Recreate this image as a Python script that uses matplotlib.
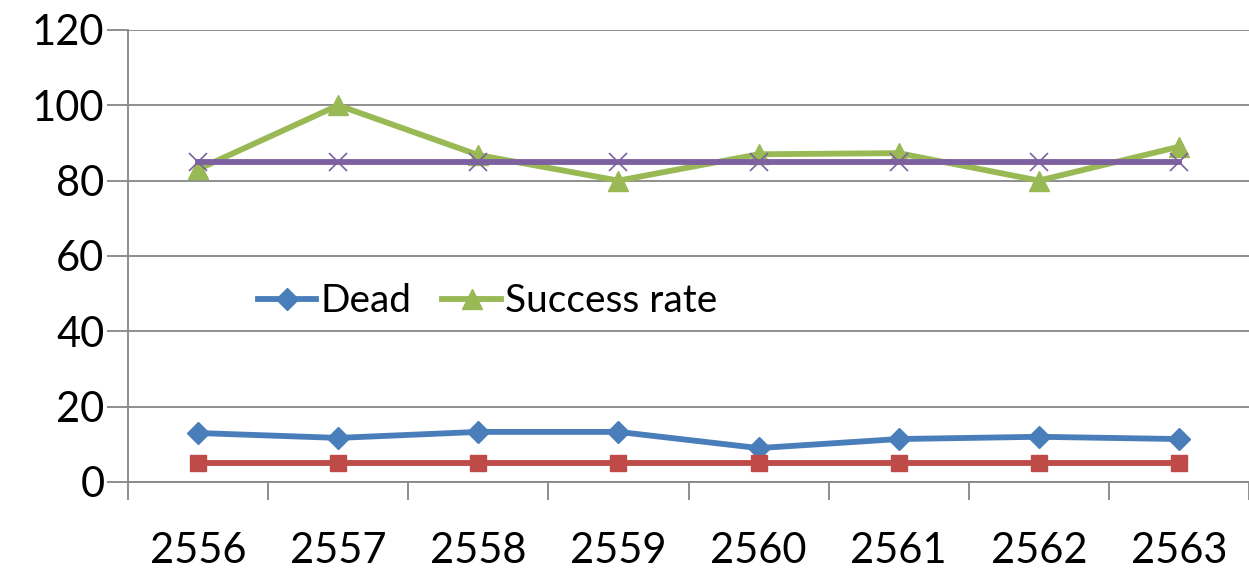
import matplotlib.pyplot as plt
import numpy as np

# Data
years = ["2556", "2557", "2558", "2559", "2560", "2561", "2562", "2563"]
dead = [13.0, 11.7, 13.3, 13.3, 9.0, 11.4, 12.0, 11.4]
dead_target = [5, 5, 5, 5, 5, 5, 5, 5]
success_rate = [83.0, 100.0, 86.8, 80.0, 87.0, 87.3, 80.0, 89.0]
success_target = [85, 85, 85, 85, 85, 85, 85, 85]

plt.rcParams['font.family'] = ['Lato', 'DejaVu Sans']

fig = plt.figure(figsize=(12.49, 5.74), dpi=100)
ax = fig.add_axes([0.1025, 0.1603, 0.8975, 0.7875])

x = np.arange(len(years))
lw = 4.2
ax.plot(x, dead, color="#4a7ebb", lw=lw, marker="D", ms=11, label="Dead", zorder=3)
ax.plot(x, dead_target, color="#be4b48", lw=lw, marker="s", ms=12, zorder=3)
ax.plot(x, success_rate, color="#98b954", lw=lw, marker="^", ms=15, label="Success rate", zorder=3)
ax.plot(x, success_target, color="#7d60a0", lw=lw, marker="x", ms=13, mew=1.2, zorder=4)

ax.set_ylim(0, 120)
ax.set_yticks(range(0, 121, 20))
ax.set_xlim(-0.5, 7.5)
ax.set_xticks(x)
ax.set_xticklabels(years)
ax.set_xticks(np.arange(-0.5, 7.6, 1), minor=True)

ax.grid(axis="y", color="#868686", lw=1.3)
for s in ["top", "right"]:
    ax.spines[s].set_visible(False)
for s in ["left", "bottom"]:
    ax.spines[s].set_color("#868686")
    ax.spines[s].set_linewidth(1.3)

ax.tick_params(axis="y", labelsize=30, length=15, width=1.3, color="#868686", pad=2)
ax.tick_params(axis="x", which="major", labelsize=30, length=0, pad=36)
ax.tick_params(axis="x", which="minor", length=13, width=1.3, color="#868686")

ax.legend(loc="center left", bbox_to_anchor=(0.116, 0.4), frameon=False, fontsize=28,
          ncol=2, handlelength=1.5, handletextpad=0.1, columnspacing=0.8,
          borderpad=0, borderaxespad=0)

fig.savefig("out.png", dpi=100)
